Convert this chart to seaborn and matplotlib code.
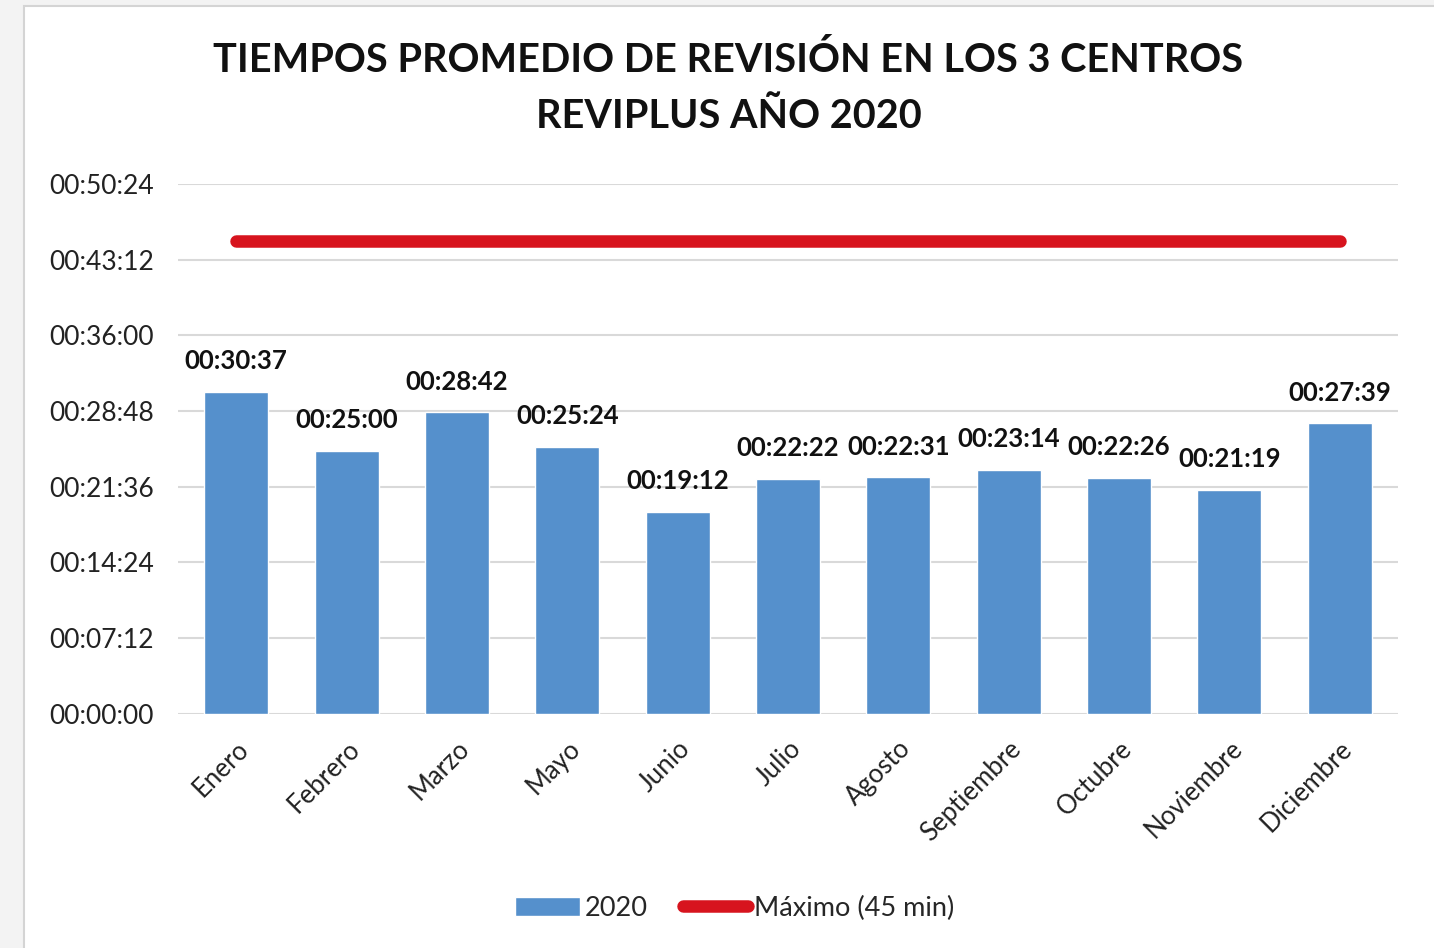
import matplotlib
matplotlib.use("Agg")
import matplotlib.pyplot as plt
import seaborn as sns
import pandas as pd
from matplotlib.ticker import FuncFormatter, MultipleLocator
from matplotlib.patches import Rectangle
from matplotlib.lines import Line2D

# datos
meses = ['Enero', 'Febrero', 'Marzo', 'Mayo', 'Junio', 'Julio', 'Agosto',
         'Septiembre', 'Octubre', 'Noviembre', 'Diciembre']
tiempos_2020 = ['00:30:37', '00:25:00', '00:28:42', '00:25:24', '00:19:12', '00:22:22',
                '00:22:31', '00:23:14', '00:22:26', '00:21:19', '00:27:39']
maximo_min = [45] * len(meses)


def a_minutos(s):
    h, m, sec = [int(p) for p in s.split(':')]
    return h * 60 + m + sec / 60


def formato_hms(v, pos=None):
    total = int(round(v * 60))
    return f"{total // 3600:02d}:{(total % 3600) // 60:02d}:{total % 60:02d}"


df = pd.DataFrame({'mes': meses, 'minutos': [a_minutos(t) for t in tiempos_2020],
                   'etiqueta': tiempos_2020, 'maximo': maximo_min})

sns.set_style('white')
plt.rcParams['font.family'] = ['Lato', 'DejaVu Sans']

fig = plt.figure(figsize=(14.34, 9.48), dpi=100, facecolor='#f3f3f3')
fondo = Rectangle((24 / 1434, -0.01), 1.02, 1 - 6 / 948 + 0.01,
                  transform=fig.transFigure, facecolor='white',
                  edgecolor='#d4d4d4', linewidth=1.5, zorder=-10)
fig.patches.append(fondo)

ax = fig.add_axes([0.124, 0.247, 0.851, 0.559])
ax.set_facecolor('none')

azul = '#5590CC'
rojo = '#D7141E'

sns.barplot(data=df, x='mes', y='minutos', color=azul, width=0.58,
            saturation=1, ax=ax, zorder=3)
ax.plot(range(len(meses)), df['maximo'], color=rojo, linewidth=9,
        solid_capstyle='round', zorder=4)

for i, row in df.iterrows():
    ax.annotate(row['etiqueta'], (i, row['minutos']), xytext=(0, 22),
                textcoords='offset points', ha='center', va='center',
                fontsize=18.5, fontweight='bold', color='#111111')

ax.set_ylim(0, 50.4)
ax.set_xlim(-0.53, len(meses) - 0.47)
ax.yaxis.set_major_locator(MultipleLocator(7.2))
ax.yaxis.set_major_formatter(FuncFormatter(formato_hms))
ax.grid(axis='y', color='#d9d9d9', linewidth=1.5, zorder=0)
for s in ax.spines.values():
    s.set_visible(False)
ax.tick_params(axis='y', length=0, pad=17, labelsize=19, labelcolor='#222222')
ax.tick_params(axis='x', length=0, pad=16, labelsize=18.5, labelcolor='#222222')
plt.setp(ax.get_xticklabels(), rotation=45, ha='right', rotation_mode='anchor')
ax.set_xlabel('')
ax.set_ylabel('')

fig.text(0.508, 0.907, 'TIEMPOS PROMEDIO DE REVISIÓN EN LOS 3 CENTROS\nREVIPLUS AÑO 2020',
         ha='center', va='center', fontsize=28.5, fontweight='bold',
         linespacing=1.65, color='#111111')

handles = [Rectangle((0, 0), 1, 1, facecolor=azul),
           Line2D([0], [0], color=rojo, linewidth=9, solid_capstyle='round')]
fig.legend(handles, ['2020', 'Máximo (45 min)'], loc='center',
           bbox_to_anchor=(0.512, 0.042), ncol=2, frameon=False, fontsize=19.5,
           handlelength=2.4, handleheight=0.7, handletextpad=0.2, columnspacing=1.3)

fig.savefig('out.png', dpi=100, facecolor=fig.get_facecolor())
